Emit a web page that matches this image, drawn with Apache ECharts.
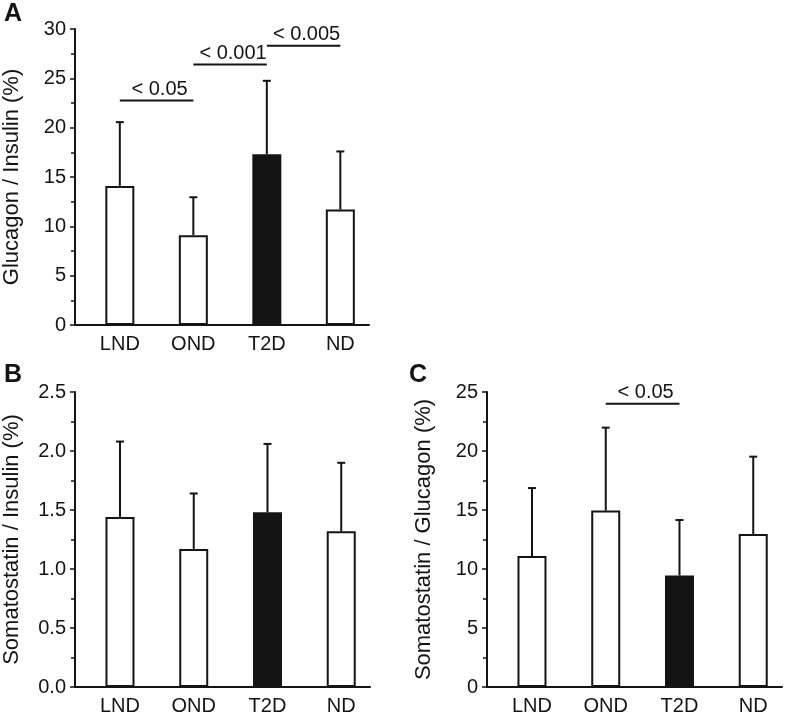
<!DOCTYPE html>
<html>
<head>
<meta charset="utf-8">
<script src="https://cdn.jsdelivr.net/npm/echarts@6/dist/echarts.min.js"></script>
<style>
html,body{margin:0;padding:0;background:#fff;}
#chart{width:787px;height:716px;}
</style>
</head>
<body>
<div id="chart"></div>
<script>
// ---- data ----
const categories = ['LND', 'OND', 'T2D', 'ND'];
const highlighted = 'T2D';

const glucInsMean = [14.1, 9.1, 17.3, 11.7];
const glucInsSD   = [6.46, 3.85, 7.45, 5.89];

const somInsMean = [1.44, 1.17, 1.48, 1.32];
const somInsSD   = [0.64, 0.47, 0.58, 0.58];

const somGlucMean = [11.1, 14.95, 9.45, 12.97];
const somGlucSD   = [5.76, 7.03, 4.70, 6.55];

// significance brackets: [fromCategoryIndex, toCategoryIndex, yValue]
const sigA = [[0, 1, 22.75], [1, 2, 26.4], [2, 3, 28.3]];
const sigALabels = ['< 0.05', '< 0.001', '< 0.005'];
const sigC = [[1, 2, 24.0]];
const sigCLabels = ['< 0.05'];

const yTicksA = {min: 0, max: 30, interval: 5};
const yTicksB = {min: 0, max: 2.5, interval: 0.5};
const yTicksC = {min: 0, max: 25, interval: 5};

const yNameA = 'Glucagon / Insulin (%)';
const yNameB = 'Somatostatin / Insulin (%)';
const yNameC = 'Somatostatin / Glucagon (%)';

// ---- styling ----
const INK = '#141414';
const FONT = "'Liberation Sans', Arial, Helvetica, sans-serif";
const catPos = categories.map((c, i) => i + 1);

function xAxisDef(gi) {
  return {
    type: 'value', gridIndex: gi, min: 0.39, max: 4.39,
    axisLine: {show: true, lineStyle: {color: INK, width: 2}},
    axisTick: {show: false},
    splitLine: {show: false},
    axisLabel: {
      customValues: catPos,
      formatter: v => categories[Math.round(v) - 1] || '',
      color: INK, fontFamily: FONT, fontSize: 20, margin: 9
    }
  };
}
function yAxisDef(gi, t, name, decimals) {
  return {
    type: 'value', gridIndex: gi, min: t.min, max: t.max, interval: t.interval,
    name: name, nameLocation: 'middle', nameRotate: 90, nameGap: 52,
    nameTextStyle: {color: INK, fontFamily: FONT, fontSize: 22},
    axisLine: {show: true, lineStyle: {color: INK, width: 2}},
    axisTick: {show: true, inside: false, length: 5, lineStyle: {color: INK, width: 1.5}},
    minorTick: {show: true, splitNumber: 2, length: 4, lineStyle: {color: INK, width: 1.5}},
    splitLine: {show: false},
    axisLabel: {
      color: INK, fontFamily: FONT, fontSize: 20, margin: 9,
      formatter: v => v.toFixed(decimals)
    }
  };
}
function barSeries(gi, means) {
  return {
    type: 'bar', xAxisIndex: gi, yAxisIndex: gi, barWidth: 29,
    data: means.map((m, i) => ({
      value: [catPos[i], m],
      itemStyle: {
        color: categories[i] === highlighted ? INK : '#ffffff',
        borderColor: INK, borderWidth: 2
      }
    })),
    z: 2, silent: true, animation: false
  };
}
function errSeries(gi, means, sds) {
  return {
    type: 'custom', xAxisIndex: gi, yAxisIndex: gi,
    data: means.map((m, i) => [catPos[i], m, sds[i]]),
    renderItem: function (params, api) {
      const x = api.value(0), m = api.value(1), s = api.value(2);
      const p0 = api.coord([x, m]);
      const p1 = api.coord([x, m + s]);
      return {
        type: 'group', children: [
          {type: 'line', shape: {x1: p0[0], y1: p0[1], x2: p1[0], y2: p1[1]}, style: {stroke: INK, lineWidth: 2}},
          {type: 'line', shape: {x1: p1[0] - 4, y1: p1[1], x2: p1[0] + 4, y2: p1[1]}, style: {stroke: INK, lineWidth: 2}}
        ]
      };
    },
    z: 3, silent: true, animation: false
  };
}
function sigSeries(gi, sig, labels) {
  return {
    type: 'custom', xAxisIndex: gi, yAxisIndex: gi,
    data: sig.map(s => [catPos[s[0]], catPos[s[1]], s[2]]),
    renderItem: function (params, api) {
      const a = api.coord([api.value(0), api.value(2)]);
      const b = api.coord([api.value(1), api.value(2)]);
      return {
        type: 'group', children: [
          {type: 'line', shape: {x1: a[0], y1: a[1], x2: b[0], y2: b[1]}, style: {stroke: INK, lineWidth: 2}},
          {type: 'text', x: (a[0] + b[0]) / 2 + 3, y: a[1] - 1,
           style: {text: labels[params.dataIndex], fill: INK, font: '20px ' + FONT, align: 'center', verticalAlign: 'bottom'}}
        ]
      };
    },
    z: 4, silent: true, animation: false
  };
}

const chart = echarts.init(document.getElementById('chart'), null, {renderer: 'canvas'});
chart.setOption({
  animation: false,
  backgroundColor: '#ffffff',
  grid: [
    {left: 73, top: 29, width: 296, height: 296},
    {left: 73, top: 392, width: 297, height: 295},
    {left: 487, top: 392, width: 295, height: 295}
  ],
  xAxis: [xAxisDef(0), xAxisDef(1), xAxisDef(2)],
  yAxis: [
    yAxisDef(0, yTicksA, yNameA, 0),
    yAxisDef(1, yTicksB, yNameB, 1),
    yAxisDef(2, yTicksC, yNameC, 0)
  ],
  graphic: [
    {type: 'text', left: 4, top: 2, style: {text: 'A', font: 'bold 25px ' + FONT, fill: INK}},
    {type: 'text', left: 4, top: 363, style: {text: 'B', font: 'bold 25px ' + FONT, fill: INK}},
    {type: 'text', left: 409, top: 363, style: {text: 'C', font: 'bold 25px ' + FONT, fill: INK}}
  ],
  series: [
    barSeries(0, glucInsMean), errSeries(0, glucInsMean, glucInsSD), sigSeries(0, sigA, sigALabels),
    barSeries(1, somInsMean), errSeries(1, somInsMean, somInsSD),
    barSeries(2, somGlucMean), errSeries(2, somGlucMean, somGlucSD), sigSeries(2, sigC, sigCLabels)
  ]
});
</script>
</body>
</html>
